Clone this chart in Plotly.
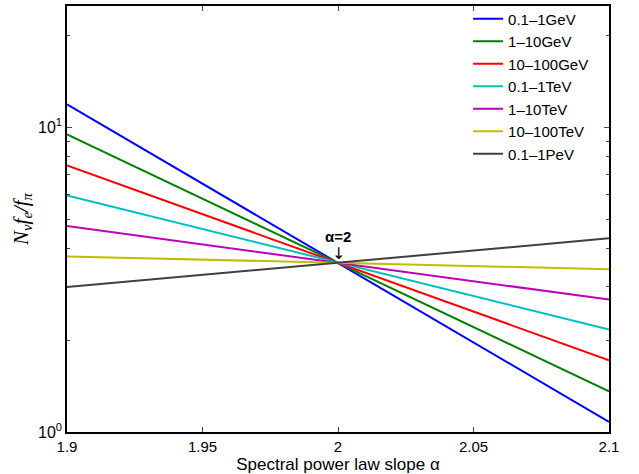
import plotly.graph_objects as go

alpha = [1.9, 2.0, 2.1]
names = ["0.1\u20131GeV", "1\u201310GeV", "10\u2013100GeV", "0.1\u20131TeV",
         "1\u201310TeV", "10\u2013100TeV", "0.1\u20131PeV"]
v_01_1GeV = [11.9, 3.59, 1.08]
v_1_10GeV = [9.47, 3.59, 1.36]
v_10_100GeV = [7.49, 3.59, 1.72]
v_01_1TeV = [5.97, 3.59, 2.17]
v_1_10TeV = [4.74, 3.59, 2.72]
v_10_100TeV = [3.77, 3.59, 3.42]
v_01_1PeV = [2.99, 3.59, 4.32]
series = [v_01_1GeV, v_1_10GeV, v_10_100GeV, v_01_1TeV, v_1_10TeV, v_10_100TeV, v_01_1PeV]
colors = ["rgb(0,0,255)", "rgb(0,128,0)", "rgb(255,0,0)", "rgb(0,191,191)",
          "rgb(191,0,191)", "rgb(191,191,0)", "rgb(64,64,64)"]

xticks = [1.9, 1.95, 2.0, 2.05, 2.1]
xticklabels = ["1.9", "1.95", "2", "2.05", "2.1"]

fig = go.Figure()
for n, v, c in zip(names, series, colors):
    fig.add_trace(go.Scatter(x=alpha, y=v, mode="lines", name=n,
                             line=dict(color=c, width=2)))

font = "Liberation Sans, Arial, sans-serif"
fig.update_layout(
    width=639, height=474,
    margin=dict(l=67, r=30, t=6, b=42, autoexpand=False),
    paper_bgcolor="white", plot_bgcolor="white",
    font=dict(family=font, size=15, color="black"),
    showlegend=True,
    legend=dict(x=0.740, y=1.008, xanchor="left", yanchor="top",
                bgcolor="rgba(0,0,0,0)", borderwidth=0,
                font=dict(family=font, size=15), itemwidth=30,
                tracegroupgap=0),
    xaxis=dict(range=[1.9, 2.1], tickvals=xticks, ticktext=xticklabels,
               ticks="inside", ticklen=5, showline=True, linecolor="black",
               linewidth=1.5, mirror="ticks", showgrid=False, zeroline=False,
               tickfont=dict(size=15), automargin=False,
               title=dict(text="Spectral power law slope \u03b1", standoff=2,
                          font=dict(size=17))),
    yaxis=dict(type="log", range=[0, 1.398], tickvals=[1, 10],
               ticktext=["10<sup>0</sup>", "10<sup>1</sup>"],
               ticks="inside", ticklen=5, showline=True, linecolor="black",
               linewidth=1.5, mirror="ticks", showgrid=False, zeroline=False,
               tickfont=dict(size=16), automargin=False,
               minor=dict(ticks="inside", ticklen=3, dtick="D1", showgrid=False),
               title=dict(text="<i>N<sub>\u03bd</sub>f<sub>e</sub>/f<sub>\u03c0</sub></i>",
                          font=dict(family="Liberation Serif, Times New Roman, serif", size=21),
                          standoff=4)),
)

fig.add_annotation(x=2.0, y=0.642, xref="x", yref="y", text="<b>\u03b1=2</b>",
                   showarrow=False, font=dict(size=15, family=font))
fig.add_annotation(x=2.0, y=0.587, xref="x", yref="y", text="\u2193",
                   showarrow=False, font=dict(size=16, family="DejaVu Sans"))

div = fig.to_html(full_html=False, include_plotlyjs=True,
                  config={"displayModeBar": False})
html = ("<!DOCTYPE html><html><head><meta charset='utf-8'>"
        "<style>html,body{margin:0;padding:0;background:white;overflow:hidden;}</style>"
        "</head><body>" + div + "</body></html>")
with open("out.html", "w", encoding="utf-8") as f:
    f.write(html)
